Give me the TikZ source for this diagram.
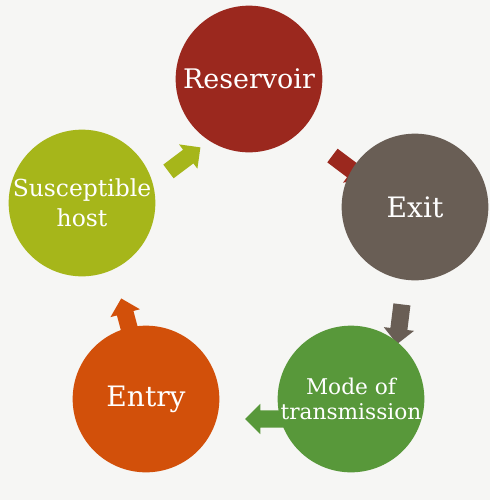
\documentclass[tikz,border=0pt]{standalone}
\usepackage{fontspec}
\setmainfont{DejaVu Serif}
\usetikzlibrary{shapes.arrows}

\definecolor{bgcol}{HTML}{F6F6F4}
\definecolor{rescol}{HTML}{9B281E}
\definecolor{exitcol}{HTML}{695E55}
\definecolor{modecol}{HTML}{58983A}
\definecolor{entrycol}{HTML}{D2500A}
\definecolor{hostcol}{HTML}{A6B61A}

\tikzset{
  stage/.style={circle,minimum size=4.4cm,inner sep=0pt,text=white,align=center},
  flow/.style={single arrow,minimum height=1.2cm,inner xsep=0pt,inner ysep=0.25cm,
    single arrow head extend=0.2cm},
}

\begin{document}
\begin{tikzpicture}[x=0.03cm,y=-0.03cm]
\fill[bgcol] (0,0) rectangle (490,500);

% block arrows go under the circles
\node[flow,fill=hostcol,rotate=37] (hostflow) at (181,162) {};
\node[flow,fill=rescol,rotate=-37] (resflow) at (345,165) {};
\node[flow,fill=exitcol,rotate=-97] (exitflow) at (400,320) {};
\node[flow,fill=modecol,rotate=180,minimum height=1.35cm] (modeflow) at (272,419) {};
\node[flow,fill=entrycol,rotate=105,minimum height=1.08cm] (entryflow) at (127,320) {};

\node[stage,fill=rescol,font=\fontsize{23}{27}\selectfont] (res) at (249,79) {Reservoir};
\node[stage,fill=exitcol,font=\fontsize{24}{28}\selectfont] (exit) at (415,207) {Exit};
\node[stage,fill=modecol,font=\fontsize{18.5}{22}\selectfont] (mode) at (351,399) {Mode of\\transmission};
\node[stage,fill=entrycol,font=\fontsize{24}{28}\selectfont] (entry) at (146,399) {Entry};
\node[stage,fill=hostcol,font=\fontsize{20}{25.5}\selectfont] (host) at (82,203) {Susceptible\\host};
\end{tikzpicture}
\end{document}
